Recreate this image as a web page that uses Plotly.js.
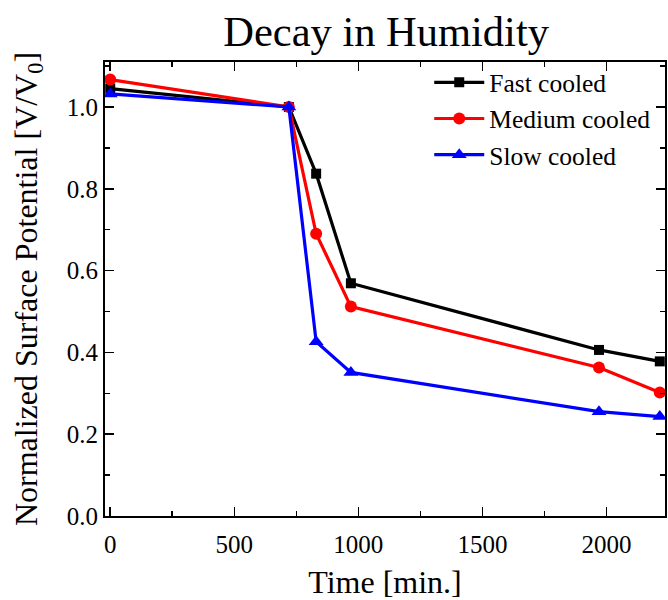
<!DOCTYPE html>
<html>
<head>
<meta charset="utf-8">
<script src="https://cdn.plot.ly/plotly-3.0.1.min.js"></script>
<style>html,body{margin:0;padding:0;background:#fff;}#chart{width:668px;height:600px;}</style>
</head>
<body>
<div id="chart"></div>
<script>
const time = [0, 720, 830, 970, 1970, 2215];
const fastCooled = [1.045, 1.0, 0.837, 0.569, 0.406, 0.378];
const mediumCooled = [1.067, 1.0, 0.69, 0.512, 0.363, 0.302];
const slowCooled = [1.032, 1.0, 0.426, 0.351, 0.255, 0.243];
const seriesNames = ['Fast cooled', 'Medium cooled', 'Slow cooled'];

const font = '"Liberation Serif"';
const traces = [
  {x: time, y: fastCooled, name: seriesNames[0], mode: 'lines+markers',
   line: {color: '#000000', width: 3.2}, marker: {symbol: 'square', size: 10, color: '#000000'}},
  {x: time, y: mediumCooled, name: seriesNames[1], mode: 'lines+markers',
   line: {color: '#ff0000', width: 3.2}, marker: {symbol: 'circle', size: 12, color: '#ff0000'}},
  {x: time, y: slowCooled, name: seriesNames[2], mode: 'lines+markers',
   line: {color: '#0000ff', width: 3.2}, marker: {symbol: 'triangle-up', size: 13, color: '#0000ff'}}
];
const axisCommon = {
  showline: true, linecolor: '#000', linewidth: 2, mirror: 'allticks',
  ticks: 'inside', ticklen: 9, tickwidth: 1.5, tickcolor: '#000',
  showgrid: false, zeroline: false,
  tickfont: {family: font, size: 25, color: '#000'}
};
const layout = {
  width: 668, height: 600,
  margin: {l: 105, r: 3, t: 62, b: 84},
  paper_bgcolor: '#fff', plot_bgcolor: '#fff',
  font: {family: font, color: '#000'},
  title: {text: 'Decay in Humidity', font: {family: font, size: 42.5, color: '#000'},
          x: 0.578, xanchor: 'center', y: 0.948, yanchor: 'middle'},
  xaxis: Object.assign({}, axisCommon, {
    range: [-21, 2236], tickvals: [0, 500, 1000, 1500, 2000], ticklabelstandoff: 5,
    minor: {tickvals: [250, 750, 1250, 1750, 2250], ticks: 'inside', ticklen: 5, tickwidth: 1.5, tickcolor: '#000'},
    title: {text: 'Time [min.]', font: {family: font, size: 32, color: '#000'}, standoff: 14}
  }),
  yaxis: Object.assign({}, axisCommon, {
    range: [0, 1.11], tickvals: [0, 0.2, 0.4, 0.6, 0.8, 1.0], tickformat: '.1f',
    minor: {tickvals: [0.1, 0.3, 0.5, 0.7, 0.9, 1.1], ticks: 'inside', ticklen: 5, tickwidth: 1.5, tickcolor: '#000'},
    title: {text: 'Normalized Surface Potential [V/V<sub>0</sub>]', font: {family: font, size: 32, color: '#000'}, standoff: 20}
  }),
  legend: {x: 0.579, y: 1.006, xanchor: 'left', yanchor: 'top', bgcolor: 'rgba(0,0,0,0)',
           font: {family: font, size: 25.5, color: '#000'}, itemwidth: 50, tracegroupgap: 0},
  showlegend: true
};
Plotly.newPlot('chart', traces, layout, {displayModeBar: false, staticPlot: true});
</script>
</body>
</html>
